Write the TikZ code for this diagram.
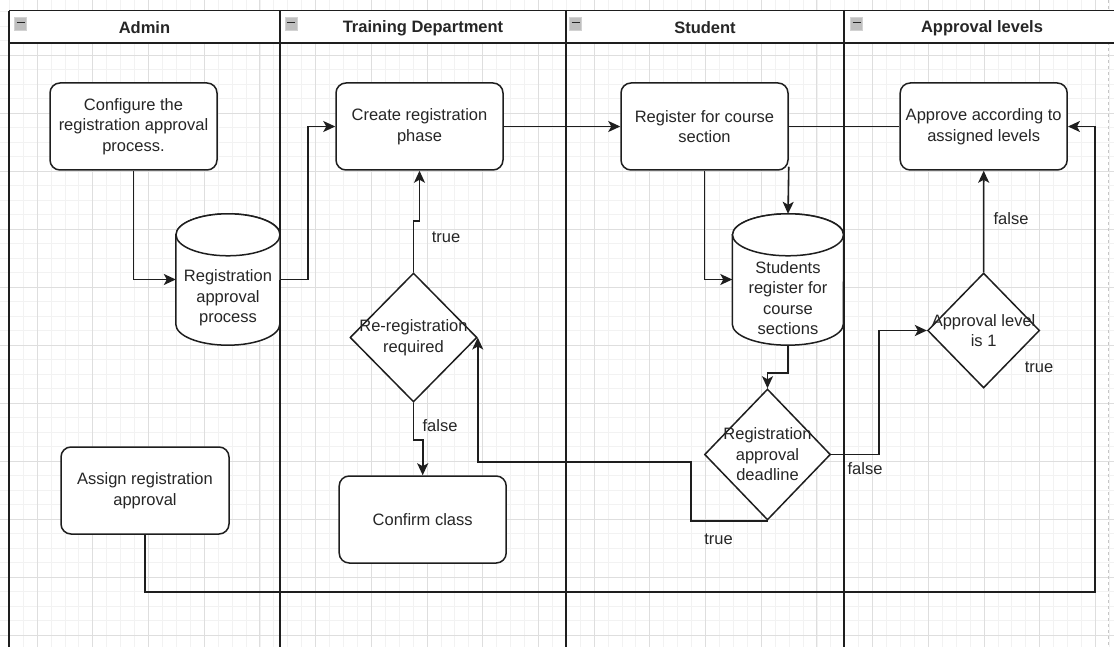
\documentclass[tikz,border=0pt]{standalone}
\usepackage{fontspec}
\setmainfont{Liberation Sans}
\usetikzlibrary{shapes.geometric,arrows.meta,calc}
\definecolor{ink}{HTML}{1E1E1E}
\definecolor{txtc}{HTML}{262626}
\definecolor{gridmajor}{HTML}{DEDEDE}
\definecolor{gridminor}{HTML}{F2F2F2}
\begin{document}
\begin{tikzpicture}[x=1pt,y=-1pt,
  every node/.style={font=\fontsize{16.5}{20.5}\selectfont, text=txtc},
  box/.style={draw=ink, line width=1.5pt, fill=white, rounded corners=10pt, minimum width=167pt, minimum height=87pt, align=center, inner sep=0pt},
  dia/.style={draw=ink, line width=1.5pt, fill=white, diamond, inner sep=0pt},
  cylbox/.style={minimum height=131pt, inner sep=0pt},
  txt/.style={align=center, inner sep=0pt},
  conn/.style={draw=ink, line width=1.6pt},
  arr/.style={conn, -{Stealth[length=12pt,width=11pt,inset=3pt]}},
  lbl/.style={inner sep=0pt},
  lane/.style={draw=ink, line width=1.6pt},
  hdr/.style={font=\bfseries\fontsize{16.5}{20}\selectfont},
  cylshape/.style={draw=ink, line width=1.5pt, fill=white}
]
\useasboundingbox (0,0) rectangle (1114,647);
% background grid
\fill[white] (0,0) rectangle (1114,647);
\foreach \i in {-2,...,78} \draw[gridminor, line width=0.6pt] ({37+\i*13.925},0) -- ({37+\i*13.925},647);
\foreach \k in {-5,...,40} \draw[gridminor, line width=0.6pt] (0,{577-\k*14.5}) -- (1114,{577-\k*14.5});
\foreach \i in {0,...,19} \draw[gridmajor, line width=0.7pt] ({37+\i*55.7},0) -- ({37+\i*55.7},647);
\foreach \k in {-1,...,10} \draw[gridmajor, line width=0.7pt] (0,{577-\k*58}) -- (1114,{577-\k*58});
\draw[gray!45, dashed, line width=0.8pt] (1108,0) -- (1108,647);

% lanes
\fill[white] (9,10.7) rectangle (1114,43.3);
\draw[lane] (9,10.7) -- (1114,10.7);
\draw[lane] (9,43.3) -- (1114,43.3);
\foreach \x in {9,280,566,844} \draw[lane] (\x,10.7) -- (\x,647);
\foreach \x in {20.5,291,575.5,856.5} {
  \draw[fill=gray!50, draw=gray!35, line width=0.8pt] ({\x-6},17) rectangle ({\x+6},30);
  \draw[line width=1.6pt, black!85] ({\x-4},22.5) -- ({\x+4},22.5);
}
\node[hdr] (h1) at (144.5,28) {Admin};
\node[hdr] (h2) at (423,28) {Training Department};
\node[hdr] (h3) at (705,28) {Student};
\node[hdr] (h4) at (982,28) {Approval levels};

% boxes
\node[box] (config) at (133.5,126.5) {Configure the\\registration approval\\process.};
\node[box] (create) at (419.5,126.5) {Create registration\\phase};
\node[box] (register) at (704.5,126.5) {Register for course\\section};
\node[box] (approve) at (983.7,126.5) {Approve according to\\assigned levels};
\node[box, minimum width=168pt] (assign) at (145,490.5) {Assign registration\\approval};
\node[box] (confirm) at (422.7,519.5) {Confirm class};

% cylinders
\node[cylbox, minimum width=104pt] (rap) at (228,279.5) {};
\node[cylbox, minimum width=111pt] (sreg) at (788,279.5) {};
\draw[cylshape] ($(rap.north west)+(0,21)$) -- ($(rap.south west)+(0,-21)$)
  arc[start angle=180, end angle=0, x radius=52, y radius=21]
  -- ($(rap.north east)+(0,21)$) arc[start angle=0, end angle=-180, x radius=52, y radius=21] -- cycle;
\draw[cylshape] ($(rap.north)+(0,21)$) ellipse [x radius=52, y radius=21];
\draw[cylshape] ($(sreg.north west)+(0,21)$) -- ($(sreg.south west)+(0,-21)$)
  arc[start angle=180, end angle=0, x radius=55.5, y radius=21]
  -- ($(sreg.north east)+(0,21)$) arc[start angle=0, end angle=-180, x radius=55.5, y radius=21] -- cycle;
\draw[cylshape] ($(sreg.north)+(0,21)$) ellipse [x radius=55.5, y radius=21];
\node[txt] (rapt) at ($(rap.center)+(0,18.5)$) {Registration\\approval\\process};
\node[txt] (sregt) at ($(sreg.center)+(0,18.5)$) {Students\\register for\\course\\sections};

% diamonds
\node[dia, minimum width=127pt, minimum height=129pt] (rereg) at (413.5,337.5) {};
\node[txt] (reregt) at (rereg.center) {Re-registration\\required};
\node[dia, minimum width=126pt, minimum height=131pt] (deadline) at (767.5,454.5) {};
\node[txt] (deadlinet) at (deadline.center) {Registration\\approval\\deadline};
\node[dia, minimum width=112pt, minimum height=115pt] (lvl) at (983.6,330.5) {};
\node[txt] (lvlt) at (lvl.center) {Approval level\\is 1};

% connectors
\coordinate (c1) at (691,462);
\coordinate (c2) at (879,454.5);
\coordinate (c3) at (1095,592);
\draw[arr] (config.south) |- (rap.west);
\draw[arr] (rap.east) -- ++(28,0) |- (create.west);
\draw[arr] (create.east) -- (register.west);
\draw[conn] (register.east) -- (approve.west);
\draw[arr] (register.south) |- (sreg.west);
\draw[arr] ($(register.south east)+(0,-4)$) -- (sreg.north);
\draw[arr] (sreg.south) -- ++(0,28) -| (deadline.north);
\draw[arr] (deadline.south) -| (c1) -| (rereg.east);
\draw[arr] (deadline.east) -- (c2) |- (lvl.west);
\draw[arr] (lvl.north) -- (approve.south);
\draw[arr] (assign.south) |- (c3) |- (approve.east);
\draw[arr] (rereg.north) -- ++(0,-51) -| (create.south);
\draw[arr] (rereg.south) -- ++(0,37) -| (confirm.north);

% labels
\node[lbl] (l1) at (446,237) {true};
\node[lbl] (l2) at (440,426) {false};
\node[lbl] (l3) at (718.6,539) {true};
\node[lbl] (l4) at (865,469) {false};
\node[lbl] (l5) at (1011,219) {false};
\node[lbl] (l6) at (1039,367) {true};
\end{tikzpicture}
\end{document}
